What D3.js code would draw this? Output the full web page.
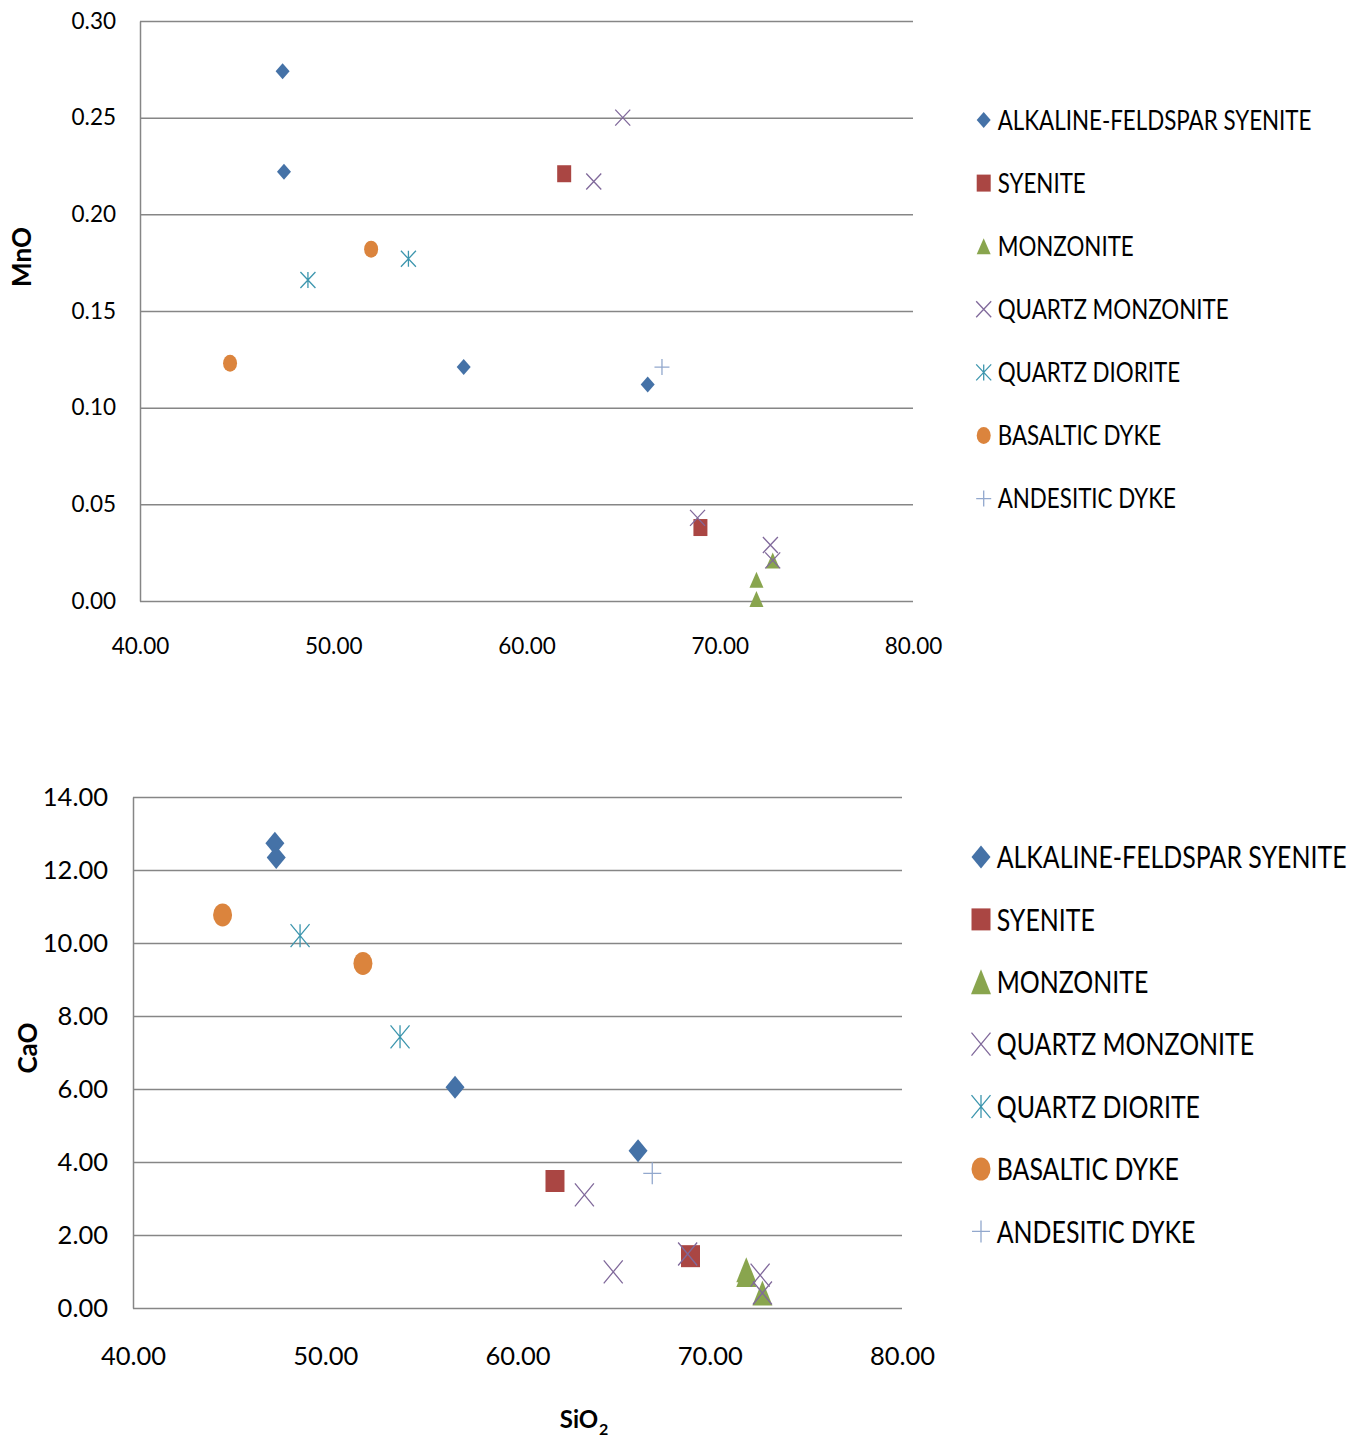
<!DOCTYPE html>
<html>
<head>
<meta charset="utf-8">
<script src="https://cdn.jsdelivr.net/npm/d3@7"></script>
<style>
  body { margin: 0; background: #fff; }
  svg { display: block; }
  text { font-family: Lato, "Liberation Sans", sans-serif; fill: #000; }
</style>
</head>
<body>
<svg id="chart" width="1367" height="1439"></svg>
<script>
// Rock groups, in legend order
const groups = [
  "ALKALINE-FELDSPAR SYENITE",
  "SYENITE",
  "MONZONITE",
  "QUARTZ MONZONITE",
  "QUARTZ DIORITE",
  "BASALTIC DYKE",
  "ANDESITIC DYKE"
];

// SiO2 (wt%) of each sample, one list per group
const sio2 = [
  [47.38, 47.45, 56.75, 66.27],
  [61.95, 69.00],
  [71.90, 71.90, 72.74],
  [64.98, 63.48, 68.85, 72.62, 72.74],
  [48.69, 53.89],
  [44.66, 51.96],
  [67.01]
];

// MnO (wt%) of the same samples
const mno = [
  [0.274, 0.222, 0.121, 0.112],
  [0.221, 0.038],
  [0.011, 0.001, 0.021],
  [0.250, 0.217, 0.043, 0.029, 0.021],
  [0.166, 0.177],
  [0.123, 0.182],
  [0.121]
];

// CaO (wt%) of the same samples
const cao = [
  [12.73, 12.34, 6.05, 4.31],
  [3.48, 1.42],
  [1.05, 0.92, 0.41],
  [0.99, 3.10, 1.48, 0.90, 0.41],
  [10.20, 7.43],
  [10.77, 9.44],
  [3.69]
];

// Axis ticks
const sio2Ticks = [40, 50, 60, 70, 80];
const mnoTicks = [0, 0.05, 0.10, 0.15, 0.20, 0.25, 0.30];
const caoTicks = [0, 2, 4, 6, 8, 10, 12, 14];

// Marker shape and colour for each group
const shapes = ["diamond", "square", "triangle", "cross", "asterisk", "circle", "plus"];
const colors = ["#4572A7", "#AA4643", "#89A54E", "#80699B", "#3D96AE", "#DB843D", "#92A8CD"];
const lineShapes = new Set(["cross", "asterisk", "plus"]);

// marker width/height in px for the small and the large panel
const smallSizes = {
  diamond: [14, 16], square: [14, 17], triangle: [14, 16], cross: [15, 16],
  asterisk: [15, 16], circle: [14, 17], plus: [15, 16]
};
const largeSizes = {
  diamond: [19, 23], square: [19, 22], triangle: [20, 25], cross: [19, 23],
  asterisk: [19, 23], circle: [19, 23], plus: [18, 22]
};

function shapePath(type, w, h) {
  const a = w / 2, b = h / 2;
  switch (type) {
    case "diamond":  return `M0,${-b}L${a},0L0,${b}L${-a},0Z`;
    case "square":   return `M${-a},${-b}h${w}v${h}h${-w}Z`;
    case "triangle": return `M0,${-b}L${a},${b}L${-a},${b}Z`;
    case "circle":   return `M${-a},0A${a},${b} 0 1,0 ${a},0A${a},${b} 0 1,0 ${-a},0Z`;
    case "cross":    return `M${-a},${-b}L${a},${b}M${-a},${b}L${a},${-b}`;
    case "asterisk": return `M${-a},${-b}L${a},${b}M${-a},${b}L${a},${-b}M0,${-b}V${b}`;
    case "plus":     return `M${-a},0H${a}M0,${-b}V${b}`;
  }
}

function styleMarker(sel, gi) {
  const t = shapes[gi];
  if (lineShapes.has(t)) {
    sel.attr("fill", "none").attr("stroke", colors[gi]).attr("stroke-width", 1.3);
  } else {
    sel.attr("fill", colors[gi]).attr("stroke", "none");
  }
}

const svg = d3.select("#chart");
const gridColor = "#868686";

const panels = [
  {
    values: mno, yDomain: [0, 0.30], yTicks: mnoTicks,
    left: 140, right: 913, top: 21, bottom: 601,
    tickFont: 22.5, xPad: 37, yPad: 24, sizes: smallSizes,
    title: "MnO", titleX: 22, titleY: 257, titleSize: 26,
    legend: { mx: 983.7, tx: 997.7, y0: 120, dy: 63.1, font: 27, longest: 314 }
  },
  {
    values: cao, yDomain: [0, 14], yTicks: caoTicks,
    left: 133, right: 902, top: 797, bottom: 1308,
    tickFont: 25.5, xPad: 39, yPad: 25, sizes: largeSizes,
    title: "CaO", titleX: 28, titleY: 1048, titleSize: 26,
    legend: { mx: 981, tx: 996.7, y0: 857, dy: 62.4, font: 31, longest: 350 }
  }
];

panels.forEach(p => {
  const x = d3.scaleLinear().domain([40, 80]).range([p.left, p.right]);
  const y = d3.scaleLinear().domain(p.yDomain).range([p.bottom, p.top]);
  const g = svg.append("g");

  // horizontal gridlines + left axis
  const ya = g.append("g")
    .attr("transform", `translate(${p.left},0)`)
    .call(d3.axisLeft(y).tickValues(p.yTicks).tickSize(-(p.right - p.left))
      .tickSizeOuter(0).tickPadding(p.yPad).tickFormat(d3.format(".2f")));
  ya.select(".domain").attr("stroke", gridColor).attr("stroke-width", 1.5);
  ya.selectAll(".tick line").attr("stroke", gridColor).attr("stroke-width", 1.5);
  ya.selectAll(".tick text").attr("font-size", p.tickFont)
    .style("font-family", "Lato, 'Liberation Sans', sans-serif").attr("fill", "#000");

  // bottom tick labels
  const xa = g.append("g")
    .attr("transform", `translate(0,${p.bottom})`)
    .call(d3.axisBottom(x).tickValues(sio2Ticks).tickSize(0)
      .tickPadding(p.xPad).tickFormat(d3.format(".2f")));
  xa.select(".domain").remove();
  xa.selectAll(".tick text").attr("font-size", p.tickFont)
    .style("font-family", "Lato, 'Liberation Sans', sans-serif").attr("fill", "#000");

  // y axis title
  g.append("text")
    .attr("transform", `translate(${p.titleX},${p.titleY}) rotate(-90)`)
    .attr("text-anchor", "middle")
    .attr("dy", "0.36em")
    .attr("font-size", p.titleSize)
    .attr("font-weight", "bold")
    .text(p.title);

  // data markers, one group per rock type
  groups.forEach((name, gi) => {
    const pts = sio2[gi].map((s, i) => ({ s, v: p.values[gi][i] }));
    const [w, h] = p.sizes[shapes[gi]];
    g.append("g").selectAll("path")
      .data(pts)
      .join("path")
      .attr("d", shapePath(shapes[gi], w, h))
      .attr("transform", d => `translate(${x(d.s)},${y(d.v)})`)
      .call(styleMarker, gi);
  });

  // legend
  const L = p.legend;
  const lg = g.append("g");
  const rows = lg.selectAll("g").data(groups).join("g")
    .attr("transform", (d, i) => `translate(0,${L.y0 + i * L.dy})`);
  rows.append("path")
    .attr("d", (d, i) => { const [w, h] = p.sizes[shapes[i]]; return shapePath(shapes[i], w, h); })
    .attr("transform", `translate(${L.mx},0)`)
    .each(function (d, i) { d3.select(this).call(styleMarker, i); });
  const labels = rows.append("text")
    .attr("dy", "0.36em")
    .attr("font-size", L.font)
    .text(d => d);
  // condense the labels horizontally so the longest one spans its set width
  const widest = d3.max(labels.nodes(), n => n.getComputedTextLength());
  const k = Math.min(1, L.longest / widest);
  labels.attr("transform", `translate(${L.tx},0) scale(${k},1)`);
});

// shared x axis title: SiO2
svg.append("text")
  .attr("x", 579)
  .attr("y", 1428)
  .attr("text-anchor", "middle")
  .attr("font-size", 24)
  .attr("font-weight", "bold")
  .text("SiO");
svg.append("text")
  .attr("x", 599)
  .attr("y", 1435)
  .attr("font-size", 16)
  .attr("font-weight", "bold")
  .text("2");
</script>
</body>
</html>
